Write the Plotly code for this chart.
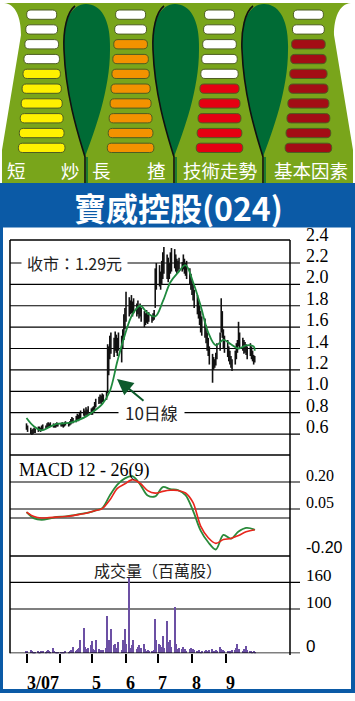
import plotly.graph_objects as go
import pandas as pd

W, H = 355, 701
def X(px): return px / W
def Y(py): return 1 - py / H

CJK = "Noto Sans CJK TC"
SERIF = "Liberation Serif"
SANS = "Liberation Sans"

# ---------------- data ----------------
dates = pd.bdate_range('2007-03-01', '2007-09-28')

high = [0.70,0.68,0.66,0.64,0.65,0.66,0.65,0.67,0.67,0.66,
        0.68,0.69,0.68,0.70,0.71,0.70,0.71,0.70,0.69,0.70,
        0.71,0.70,
        0.70,0.71,0.70,0.71,0.72,0.71,0.72,0.74,0.76,0.75,
        0.77,0.79,0.78,0.80,0.82,0.84,0.82,0.85,0.83,0.86,0.84,
        0.85,0.86,0.90,0.93,0.95,0.97,0.96,0.98,0.97,1.00,
        1.44,1.42,1.52,1.55,1.50,1.56,1.53,1.50,1.55,1.52,1.58,1.72,1.78,
        1.93,1.88,1.85,1.90,1.84,1.87,1.82,1.85,1.80,1.82,
        1.78,1.75,1.73,1.76,1.72,1.74,1.71,1.73,1.76,2.15,2.20,
        2.18,2.12,2.22,2.30,2.35,2.28,2.25,2.20,2.30,2.34,
        2.33,2.28,2.24,2.22,2.25,2.21,2.28,2.24,2.20,2.22,2.15,2.10,
        2.05,2.00,1.95,1.90,1.85,1.80,1.75,1.70,1.68,1.62,
        1.55,1.50,1.42,1.35,1.32,1.30,1.36,1.45,1.55,1.87,1.75,1.58,1.52,
        1.48,1.42,1.38,1.33,1.30,1.38,1.45,1.48,1.65,1.55,
        1.50,1.48,1.46,1.44,1.42,1.45,1.42,1.38,1.34,1.33]

low = [0.64,0.62,0.60,0.59,0.60,0.61,0.61,0.62,0.63,0.62,
       0.63,0.64,0.65,0.65,0.66,0.66,0.67,0.66,0.66,0.66,
       0.67,0.67,
       0.67,0.67,0.66,0.67,0.68,0.67,0.68,0.69,0.70,0.70,
       0.71,0.73,0.72,0.74,0.75,0.77,0.76,0.78,0.77,0.79,0.78,
       0.78,0.80,0.82,0.85,0.88,0.89,0.88,0.90,0.90,0.92,
       0.98,1.15,1.30,1.35,1.32,1.38,1.36,1.33,1.38,1.27,1.40,1.48,1.58,
       1.65,1.70,1.72,1.73,1.70,1.73,1.70,1.72,1.68,1.70,
       1.65,1.60,1.62,1.64,1.63,1.65,1.64,1.66,1.67,1.78,1.95,
       1.98,1.95,2.00,2.05,2.10,2.05,2.02,2.05,2.10,2.12,
       2.15,2.12,2.10,2.12,2.14,2.12,2.14,2.10,2.08,2.05,2.00,1.95,
       1.90,1.85,1.78,1.72,1.68,1.62,1.55,1.52,1.50,1.45,
       1.38,1.33,1.25,1.08,1.20,1.22,1.24,1.30,1.38,1.55,1.50,1.40,1.36,
       1.32,1.28,1.25,1.22,1.19,1.25,1.30,1.36,1.42,1.40,
       1.38,1.35,1.36,1.34,1.30,1.33,1.30,1.28,1.25,1.27]

volume = [5,6,8,6,4,3,4,5,3,4,
          6,5,4,5,7,6,4,11,5,3,
          3,2,3,4,3,4,5,4,6,8,
          7,15,6,8,10,12,30,56,15,9,
          7,12,19,28,10,8,31,9,6,7,
          5,8,12,84,30,22,55,18,22,12,
          10,25,8,31,14,55,20,173,12,9,
          18,30,10,14,19,8,12,22,10,6,
          7,5,6,5,8,78,30,20,18,14,
          39,12,72,26,18,30,15,104,20,10,
          8,12,9,14,7,10,6,9,11,7,
          10,8,6,5,7,4,5,6,8,5,
          6,7,9,6,5,8,6,15,10,8,
          7,6,5,6,4,5,7,8,12,22,
          8,9,6,10,7,17,8,6,5,4,
          5,4]

# lines read every 5 trading days
sample_idx = list(range(0, 152, 5)) + [151]
ma10 = [0.75,0.67,0.635,0.665,0.695,0.70,0.71,0.735,0.77,0.82,0.88,1.00,1.28,1.53,1.72,1.80,
        1.73,1.70,1.84,2.02,2.11,2.18,2.02,1.80,1.55,1.43,1.48,1.44,1.40,1.43,1.42,1.38]
macd_dif = [0.033,-0.002,-0.010,-0.004,0.006,0.008,0.014,0.022,0.028,0.040,0.055,0.125,0.185,0.22,
            0.232,0.187,0.125,0.12,0.172,0.16,0.155,0.127,0.04,-0.07,-0.135,-0.175,-0.094,-0.115,
            -0.075,-0.055,-0.063,-0.067]
macd_sig = [0.033,0.008,0.000,0.002,0.005,0.008,0.012,0.020,0.028,0.040,0.052,0.100,0.165,0.19,
            0.213,0.193,0.152,0.138,0.148,0.154,0.153,0.139,0.085,-0.045,-0.11,-0.141,-0.12,-0.114,
            -0.097,-0.077,-0.067,-0.067]

month_ticks = ['2007-03-01','2007-04-01','2007-05-01','2007-06-01','2007-07-01','2007-08-01','2007-09-01']
month_labels = ['3/07','','5','6','7','8','9']

price_grid = [0.6,0.8,1.0,1.2,1.4,1.6,1.8,2.0,2.2]
price_ticks = [0.6,0.8,1.0,1.2,1.4,1.6,1.8,2.0,2.2,2.4]
price_ticktext = ['0.6','0.8','1.0','1.2','1.4','1.6','1.8','2.0','2.2','2.4']
macd_ticks = [0.20, 0.05, -0.20]
macd_ticktext = ['0.20','0.05','-0.20']
vol_ticks = [160, 100, 0]
vol_ticktext = ['160','100','0']

gauge_levels = [6, 8, 5, 8]
gauge_colors = ['#fff100', '#f39200', '#e50012', '#a30d15']
gauge_labels = [['短','炒'], ['長','揸'], ['技術走勢'], ['基本因素']]

title_text = '寶威控股(024)'
close_text = '收市：1.29元'
ma_text = '10日線'
macd_title = 'MACD 12 - 26(9)'
vol_title = '成交量（百萬股）'

# ---------------- helpers ----------------
def path(s):
    toks = s.replace(',', ' ').split()
    out, nums = [], []
    for t in toks:
        if t.isalpha():
            out.append(t)
        else:
            nums.append(float(t))
            if len(nums) == 2:
                out.append(f'{X(nums[0]):.5f},{Y(nums[1]):.5f}')
                nums = []
    return ' '.join(out)

def rrect(x0, y0, x1, y1, r):
    return path(f'M {x0+r} {y0} L {x1-r} {y0} Q {x1} {y0} {x1} {y0+r} L {x1} {y1-r} '
                f'Q {x1} {y1} {x1-r} {y1} L {x0+r} {y1} Q {x0} {y1} {x0} {y1-r} '
                f'L {x0} {y0+r} Q {x0} {y0} {x0+r} {y0} Z')

shapes = []
ann = []

OLIVE = '#79a51b'
DKGREEN = '#006b35'
BLUE = '#0b5aa6'

# ---------------- gauge panel ----------------
shapes.append(dict(type='path', xref='paper', yref='paper', layer='below',
                   path=path('M 4 3 C 16 4 21 18 21 35 L 2 150 L 2 184 L 353 184 L 353 150 '
                             'L 334 35 C 334 18 339 4 351 3 Z'),
                   fillcolor=OLIVE, line=dict(width=0)))
for tx in [85, 174, 263]:
    shapes.append(dict(type='path', xref='paper', yref='paper',
                       path=path(f'M {tx} 157 C {tx-5} 140 {tx-19} 100 {tx-21} 50 '
                                 f'C {tx-23} 20 {tx-13} 4 {tx+1} 4 C {tx+15} 4 {tx+26} 18 {tx+25} 50 '
                                 f'C {tx+25} 90 {tx+10} 130 {tx} 157 Z'),
                       fillcolor=DKGREEN, line=dict(width=0)))
    shapes.append(dict(type='path', xref='paper', yref='paper',
                       path=path(f'M {tx} 184 L {tx} 157 C {tx-5} 140 {tx-19} 100 {tx-21} 50 '
                                 f'C {tx-22} 30 {tx-18} 12 {tx-10} 6'),
                       fillcolor='rgba(0,0,0,0)', line=dict(color='#111', width=1.6)))
    shapes.append(dict(type='line', xref='paper', yref='paper',
                       x0=X(tx+2), x1=X(tx+2), y0=Y(157), y1=Y(184),
                       line=dict(color=DKGREEN, width=1.5)))

for j, (lvl, col) in enumerate(zip(gauge_levels, gauge_colors)):
    cx = 41.7 + 88.9 * j
    for k in range(10):
        top = 10 + 14.8 * k
        hw = 15 + 0.92 * k
        fill = '#ffffff' if k < 10 - lvl else col
        shapes.append(dict(type='path', xref='paper', yref='paper',
                           path=rrect(cx - hw, top, cx + hw, top + 9.3, 4.2),
                           fillcolor=fill, line=dict(color='#4d5c22', width=1)))

label_pos = [[16.7, 70], [101.7, 156], [221], [311]]
for labs, poss in zip(gauge_labels, label_pos):
    for t, p in zip(labs, poss):
        ann.append(dict(text=t, x=X(p), y=Y(169.5), xref='paper', yref='paper',
                        xanchor='center', yanchor='middle', showarrow=False, borderpad=0,
                        font=dict(family=CJK, size=18.5, color='white')))

# title band and borders
shapes.append(dict(type='rect', xref='paper', yref='paper', x0=0, x1=1, y0=Y(227.5), y1=Y(183),
                   fillcolor=BLUE, line=dict(width=0)))
shapes.append(dict(type='rect', xref='paper', yref='paper', x0=0, x1=X(3), y0=Y(693), y1=Y(227),
                   fillcolor=BLUE, line=dict(width=0)))
shapes.append(dict(type='rect', xref='paper', yref='paper', x0=X(351), x1=1, y0=Y(693), y1=Y(227),
                   fillcolor=BLUE, line=dict(width=0)))
shapes.append(dict(type='rect', xref='paper', yref='paper', x0=0, x1=1, y0=Y(693), y1=Y(689),
                   fillcolor=BLUE, line=dict(width=0)))
ann.append(dict(text=f'<b>{title_text}</b>', x=X(178.5), y=Y(206.5), xref='paper', yref='paper',
                xanchor='center', yanchor='middle', showarrow=False, borderpad=0,
                font=dict(family=CJK, size=32, color='white')))

# ---------------- chart frame & grid ----------------
LW = 1.5
def hline(py, x0=10, x1=290, w=LW):
    shapes.append(dict(type='line', xref='paper', yref='paper', x0=X(x0), x1=X(x1),
                       y0=Y(py), y1=Y(py), line=dict(color='black', width=w)))
hline(240)
hline(455)
hline(556)
shapes.append(dict(type='line', xref='paper', yref='paper', x0=X(10), x1=X(10),
                   y0=Y(653.3), y1=Y(240), line=dict(color='black', width=LW)))
shapes.append(dict(type='line', xref='paper', yref='paper', x0=X(290), x1=X(290),
                   y0=Y(655), y1=Y(240), line=dict(color='black', width=LW)))

for v in price_grid:
    shapes.append(dict(type='line', xref='paper', yref='y', x0=X(10), x1=X(300), y0=v, y1=v,
                       layer='below', line=dict(color='black', width=1.2)))
for v in [0.20, 0.05]:
    shapes.append(dict(type='line', xref='paper', yref='y2', x0=X(10), x1=X(300), y0=v, y1=v,
                       layer='below', line=dict(color='black', width=1.2)))
shapes.append(dict(type='line', xref='paper', yref='y2', x0=X(10), x1=X(290), y0=0, y1=0,
                   layer='below', line=dict(color='black', width=1.2)))
for v in [160, 100]:
    shapes.append(dict(type='line', xref='paper', yref='y3', x0=X(10), x1=X(300), y0=v, y1=v,
                       layer='below', line=dict(color='black', width=1.2)))
shapes.append(dict(type='line', xref='paper', yref='y3', x0=X(10), x1=X(300), y0=0, y1=0,
                   line=dict(color='black', width=1.8)))

for v, t in zip(price_ticks, price_ticktext):
    ann.append(dict(text=t, x=X(304), y=v, xref='paper', yref='y', xanchor='left',
                    yanchor='middle', yshift=7, showarrow=False,
                    font=dict(family=SERIF, size=18, color='black')))
for v, t in zip(macd_ticks, macd_ticktext):
    fam = SANS if v < 0 else SERIF
    ann.append(dict(text=t, x=X(304), y=v, xref='paper', yref='y2', xanchor='left',
                    yanchor='middle', yshift=7, showarrow=False,
                    font=dict(family=fam, size=16, color='black')))
for v, t in zip(vol_ticks, vol_ticktext):
    fam = SANS if v == 0 else SERIF
    ann.append(dict(text=t, x=X(304), y=v, xref='paper', yref='y3', xanchor='left',
                    yanchor='middle', yshift=7, showarrow=False,
                    font=dict(family=fam, size=17, color='black')))
for d, t in zip(month_ticks, month_labels):
    if t:
        ann.append(dict(text=f'<b>{t}</b>', x=d, y=Y(683), xref='x', yref='paper',
                        xanchor='left', yanchor='middle', xshift=-2, showarrow=False,
                        font=dict(family=SERIF, size=18, color='black')))

ann.append(dict(text=close_text, x=X(74), y=2.2, xref='paper', yref='y', xanchor='center',
                yanchor='middle', showarrow=False, bgcolor='white', borderpad=5,
                font=dict(family=CJK, size=16, color='#222')))
ann.append(dict(text=ma_text, x=X(151), y=0.8, xref='paper', yref='y', xanchor='center',
                yanchor='middle', showarrow=False, bgcolor='white', borderpad=6,
                font=dict(family=CJK, size=17, color='#222')))
ann.append(dict(text='', x=X(117), y=Y(379), xref='paper', yref='paper', showarrow=True,
                ax=28, ay=23, arrowhead=2, arrowsize=1.6, arrowwidth=2, arrowcolor='#0d5a2b',
                standoff=0))
ann.append(dict(text=macd_title, x=X(17), y=Y(470), xref='paper', yref='paper', xanchor='left',
                yanchor='middle', showarrow=False,
                font=dict(family=SERIF, size=18, color='black')))
ann.append(dict(text=vol_title, x=X(158), y=Y(570), xref='paper', yref='paper', xanchor='center',
                yanchor='middle', showarrow=False,
                font=dict(family=CJK, size=16, color='#222')))

# ---------------- traces ----------------
bx, by = [], []
for d, h, l in zip(dates, high, low):
    bx += [d, d, None]
    by += [l, h, None]

sdates = [dates[i] for i in sample_idx]

fig = go.Figure()
fig.add_trace(go.Scatter(x=bx, y=by, mode='lines', line=dict(color='#111', width=1.6),
                         xaxis='x', yaxis='y', hoverinfo='skip'))
fig.add_trace(go.Scatter(x=sdates, y=ma10, mode='lines',
                         line=dict(color='#1f8a3e', width=1.8, shape='spline', smoothing=1.0),
                         xaxis='x', yaxis='y'))
fig.add_trace(go.Scatter(x=sdates, y=macd_dif, mode='lines',
                         line=dict(color='#2a8a3a', width=1.8, shape='spline', smoothing=0.9),
                         xaxis='x', yaxis='y2'))
fig.add_trace(go.Scatter(x=sdates, y=macd_sig, mode='lines',
                         line=dict(color='#e8261c', width=1.6, shape='spline', smoothing=0.9),
                         xaxis='x', yaxis='y2'))
fig.add_trace(go.Bar(x=dates, y=volume, marker=dict(color='#6c50a4', line=dict(width=0)),
                     width=86400000 * 1.2, xaxis='x', yaxis='y3'))

p_top = 2.2 + (263 - 240) / 106.9
p_bot = 2.2 - (455 - 263) / 106.9
m_top = 0.20 + (482 - 455) / 180
m_bot = 0.20 - (556 - 482) / 180
v_top = (653.3 - 556) / 0.443

fig.update_layout(
    width=W, height=H, margin=dict(l=0, r=0, t=0, b=0),
    paper_bgcolor='white', plot_bgcolor='rgba(0,0,0,0)',
    showlegend=False, bargap=0,
    xaxis=dict(domain=[X(10), X(290)], type='date',
               range=['2007-02-13 18:00', '2007-10-30 14:00'],
               anchor='y3', showgrid=False, zeroline=False, showline=False,
               ticks='outside', tickvals=month_ticks, ticklen=9, tickwidth=2,
               tickcolor='black', showticklabels=False),
    yaxis=dict(domain=[Y(455), Y(240)], range=[p_bot, p_top], anchor='x',
               showgrid=False, zeroline=False, showticklabels=False, ticks=''),
    yaxis2=dict(domain=[Y(556), Y(455)], range=[m_bot, m_top], anchor='x',
                showgrid=False, zeroline=False, showticklabels=False, ticks=''),
    yaxis3=dict(domain=[Y(653.3), Y(556)], range=[0, v_top], anchor='x',
                showgrid=False, zeroline=False, showticklabels=False, ticks=''),
    shapes=shapes, annotations=ann,
)

fig.write_html('out.html')
